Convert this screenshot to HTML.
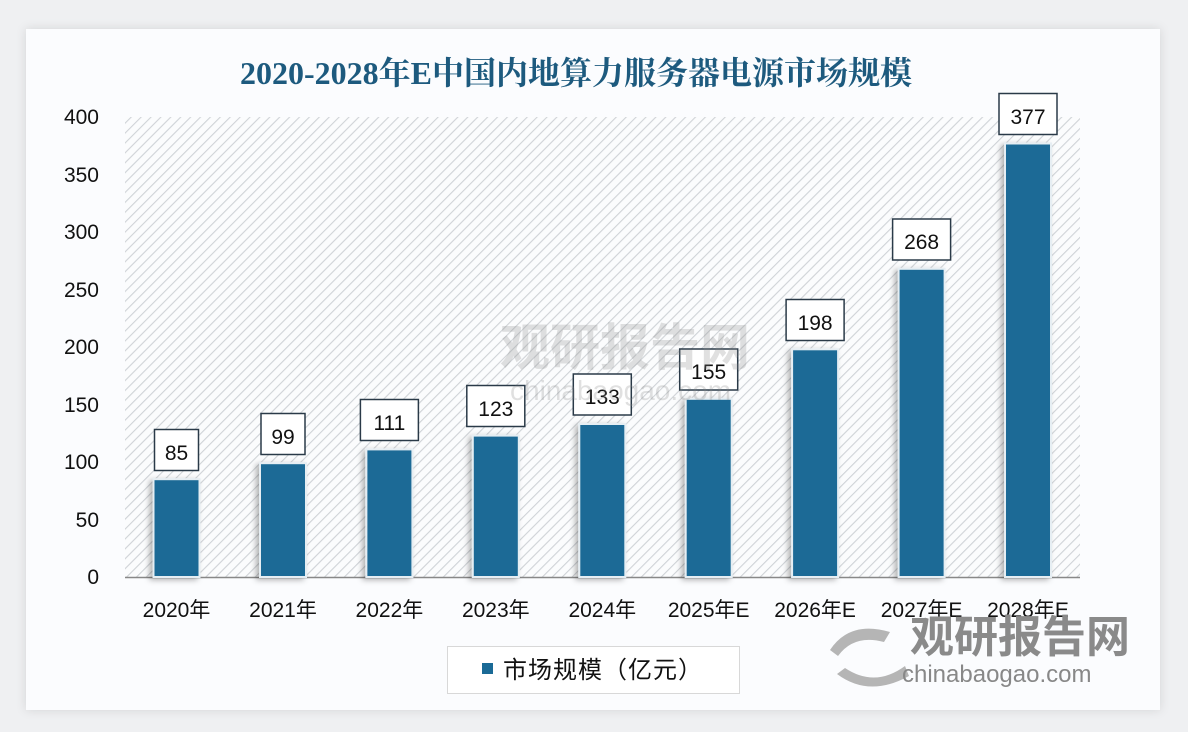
<!DOCTYPE html>
<html><head><meta charset="utf-8"><style>
html,body{margin:0;padding:0;background:#eff0f2;}
</style></head><body>
<svg width="1188" height="732" xmlns="http://www.w3.org/2000/svg" style="display:block">
<defs>
<pattern id="h" width="7" height="7" patternUnits="userSpaceOnUse" patternTransform="rotate(45)">
<rect width="7" height="7" fill="#fbfcfd"/><line x1="0" y1="0" x2="0" y2="7" stroke="#cfd3d7" stroke-width="2.2"/>
</pattern>
<filter id="s" x="-30%" y="-10%" width="160%" height="120%"><feDropShadow dx="-3" dy="2" stdDeviation="3" flood-color="#000" flood-opacity="0.3"/></filter>
<filter id="c" x="-5%" y="-5%" width="110%" height="110%"><feDropShadow dx="0" dy="0" stdDeviation="5" flood-color="#000" flood-opacity="0.12"/></filter>
</defs>
<rect x="26" y="29" width="1134" height="681" fill="#fbfcfe" filter="url(#c)"/>
<text x="576" y="84" text-anchor="middle" font-family="Liberation Serif, Noto Serif CJK SC, serif" font-weight="bold" font-size="32" fill="#1d5a7e">2020-2028年E中国内地算力服务器电源市场规模</text>
<rect x="125" y="117" width="955" height="460" fill="url(#h)"/>
<line x1="125" y1="577.5" x2="1080" y2="577.5" stroke="#888" stroke-width="1.5"/>
<g font-family="Liberation Sans, Noto Sans CJK SC, sans-serif" font-size="21" fill="#111" text-anchor="end">
<text x="99" y="124">400</text><text x="99" y="182">350</text><text x="99" y="239">300</text><text x="99" y="297">250</text><text x="99" y="354">200</text><text x="99" y="412">150</text><text x="99" y="469">100</text><text x="99" y="527">50</text><text x="99" y="584">0</text>
</g>
<g font-family="Liberation Sans, Noto Sans CJK SC, sans-serif" font-size="21" fill="#111" text-anchor="middle">
<g fill="#1a6a96" stroke="#e6eef3" stroke-width="2" filter="url(#s)">
<rect x="153.5" y="479.2" width="46" height="97.8"/>
<rect x="260" y="463.2" width="46" height="113.8"/>
<rect x="366.4" y="449.4" width="46" height="127.6"/>
<rect x="472.8" y="435.6" width="46" height="141.4"/>
<rect x="579.3" y="424" width="46" height="153"/>
<rect x="685.7" y="398.8" width="46" height="178.2"/>
<rect x="792.1" y="349.3" width="46" height="227.7"/>
<rect x="898.6" y="268.8" width="46" height="308.2"/>
<rect x="1005" y="143.5" width="46" height="433.5"/>
</g>
<g fill="#fff" stroke="#2a3a48" stroke-width="1.5">
<rect x="154.5" y="429.5" width="44" height="41"/>
<rect x="261" y="413.5" width="44" height="41"/>
<rect x="360.4" y="399.5" width="58" height="41"/>
<rect x="466.8" y="385.5" width="58" height="41"/>
<rect x="573.3" y="374" width="58" height="41"/>
<rect x="679.7" y="349" width="58" height="41"/>
<rect x="786.1" y="299.5" width="58" height="41"/>
<rect x="892.6" y="219" width="58" height="41"/>
<rect x="999" y="93.5" width="58" height="41"/>
</g>
<text x="176.5" y="460">85</text><text x="283" y="444">99</text><text x="389.4" y="430">111</text><text x="495.8" y="416">123</text><text x="602.3" y="404">133</text><text x="708.7" y="379">155</text><text x="815.1" y="330">198</text><text x="921.6" y="249">268</text><text x="1028" y="124">377</text>
<text x="176.5" y="617">2020年</text><text x="283" y="617">2021年</text><text x="389.4" y="617">2022年</text><text x="495.8" y="617">2023年</text><text x="602.3" y="617">2024年</text><text x="708.7" y="617">2025年E</text><text x="815.1" y="617">2026年E</text><text x="921.6" y="617">2027年E</text><text x="1028" y="617">2028年E</text>
</g>
<g opacity="0.25" font-family="Liberation Sans, Noto Sans CJK SC, sans-serif" fill="#888">
<text x="500" y="365" font-size="50" font-weight="bold">观研报告网</text>
<text x="510" y="400" font-size="28">chinabaogao.com</text>
</g>
<g fill="#8a8a8a" font-family="Liberation Sans, Noto Sans CJK SC, sans-serif">
<path d="M830 650 q20 -30 60 -18 l-6 10 q-30 -8 -46 14 z M845 668 q30 20 60 -2 l4 10 q-40 22 -72 -2 z" fill="#b5b5b5"/>
<text x="910" y="652" font-size="44" font-weight="bold">观研报告网</text>
<text x="902" y="682" font-size="24" fill="#888">chinabaogao.com</text>
</g>
<rect x="447.5" y="646.5" width="292" height="47" fill="#fff" stroke="#d8d8d8"/>
<rect x="482" y="663" width="11" height="11" fill="#1a6a96"/>
<text x="503" y="678" font-family="Liberation Sans, Noto Sans CJK SC, sans-serif" font-size="24" fill="#111" letter-spacing="1">市场规模（亿元）</text>
</svg>
</body></html>
